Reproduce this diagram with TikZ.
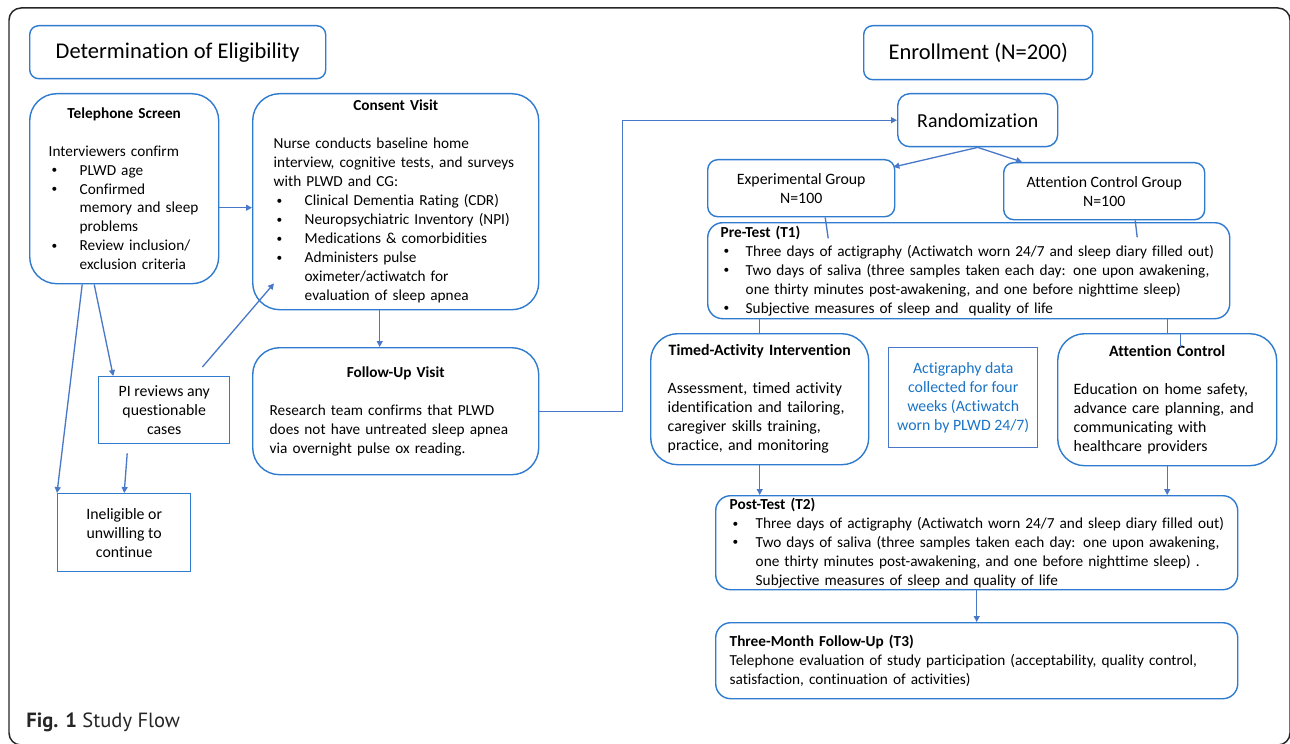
\documentclass[tikz,border=0pt]{standalone}
\usepackage{fontspec}
\setmainfont{Carlito}[Ligatures=NoCommon]
\newfontfamily\capfont{PT Sans}
\usetikzlibrary{positioning,arrows.meta,calc}
\definecolor{flowblue}{HTML}{2E7BCF}
\definecolor{linkblue}{HTML}{4A78C8}
\definecolor{noteblue}{HTML}{1A74C6}
\definecolor{framegray}{HTML}{262626}
\setlength{\parindent}{0pt}
\setlength{\parskip}{0pt}
\newdimen\pxu \pxu=0.02cm
\newcommand{\bodyfont}{\fontsize{8.7}{10.8}\selectfont}
\newcommand{\tabfont}{\fontsize{9}{10.8}\selectfont}
\newcommand{\noshrink}{\rightskip=-60\pxu plus 1fil\relax\hyphenpenalty=10000\relax}
\newcommand{\bulletmark}{\raisebox{0.15ex}{\fontsize{6.5}{6}\selectfont\textbullet}}
\newcommand{\bitem}[2][31]{\par\noshrink\noindent\hangindent=#1\pxu\hangafter=1\makebox[#1\pxu][l]{\hspace{3\pxu}\bulletmark}#2\par}
\newcommand{\boxhead}[1]{{\centering\bfseries #1\par}\vspace{\baselineskip}\noshrink}
\tikzset{
    panel/.style={draw=flowblue,line width=0.8pt,rounded corners=27\pxu,anchor=north west,inner sep=0pt,font=\bodyfont,align=left},
    tab/.style={panel,rounded corners=10\pxu,align=center,font=\tabfont},
    plainbox/.style={panel,sharp corners,align=center,font=\tabfont},
    head/.style={tab,rounded corners=9\pxu,font=\fontsize{12.8}{15}\selectfont},
    testbox/.style={panel,rounded corners=15\pxu},
    link/.style={draw=linkblue,line width=0.75pt,-{Triangle[length=3.4pt,width=3.4pt]}},
    wire/.style={draw=linkblue,line width=0.75pt},
    frame/.style={draw=framegray,line width=0.85pt,rounded corners=12\pxu},
}
\begin{document}
\begin{tikzpicture}[x=0.02cm,y=-0.02cm]
    \useasboundingbox (0,0) rectangle (1290,743);
    \draw[frame] (9,8) rectangle (1290,745);

    \node[head,minimum width=296\pxu,minimum height=53\pxu] (elig) at (29,25) {Determination of Eligibility};
    \node[head,minimum width=229\pxu,minimum height=54\pxu] (enrol) at (863,25) {Enrollment (N=200)};

    \node[panel,minimum width=189\pxu,minimum height=190\pxu,text width=151\pxu] (tel) at (29,93) {%
        \boxhead{Telephone Screen}
        Interviewers confirm
        \bitem{PLWD age}
        \bitem{Confirmed\newline memory and sleep\newline problems}
        \bitem{Review inclusion/\newline exclusion criteria}};
    \node[panel,minimum width=286\pxu,minimum height=216\pxu,text width=244\pxu] (consent) at (252,93) {%
        \boxhead{Consent Visit}
        Nurse conducts baseline home\newline interview, cognitive tests, and surveys\newline with PLWD and CG:
        \bitem{Clinical Dementia Rating (CDR)}
        \bitem{Neuropsychiatric Inventory (NPI)}
        \bitem{Medications \& comorbidities}
        \bitem{Administers pulse\newline oximeter/actiwatch for\newline evaluation of sleep apnea}};
    \node[plainbox,minimum width=131\pxu,minimum height=67\pxu] (pi) at (98,376) {PI reviews any\\questionable\\cases};
    \node[plainbox,minimum width=133\pxu,minimum height=78\pxu] (inel) at (57,493) {Ineligible or\\unwilling to\\continue};
    \node[panel,minimum width=286\pxu,minimum height=127\pxu,text width=252\pxu] (follow) at (252,347) {%
        \boxhead{Follow-Up Visit}
        Research team confirms that PLWD\newline does not have untreated sleep apnea\newline via overnight pulse ox reading.};

    \node[tab,rounded corners=12\pxu,minimum width=160\pxu,minimum height=53\pxu,font=\fontsize{11.3}{13}\selectfont] (rand) at (897,93) {Randomization};
    \node[tab,minimum width=187\pxu,minimum height=57\pxu] (exp) at (707,159) {Experimental Group\\N=100};
    \node[tab,minimum width=201\pxu,minimum height=57\pxu] (attgrp) at (1003,162) {Attention Control Group\\N=100};
    \node[testbox,minimum width=522\pxu,minimum height=96\pxu,text width=496\pxu] (pre) at (707,222) {%
        \textbf{Pre-Test (T1)}
        \bitem[25]{Three days of actigraphy (Actiwatch worn 24/7 and sleep diary filled out)}
        \bitem[25]{Two days of saliva (three samples taken each day: one upon awakening,\newline one thirty minutes post-awakening, and one before nighttime sleep)}
        \bitem[25]{Subjective measures of sleep and\ \ quality of life}};
    \node[panel,font=\tabfont,minimum width=218\pxu,minimum height=131\pxu,text width=184\pxu] (timed) at (650,333) {%
        \boxhead{Timed-Activity Intervention}
        Assessment, timed activity\newline identification and tailoring,\newline caregiver skills training,\newline practice, and monitoring};
    \node[plainbox,draw=linkblue,text=noteblue,minimum width=149\pxu,minimum height=100\pxu] (acti) at (888,347) {Actigraphy data\\collected for four\\weeks (Actiwatch\\worn by PLWD 24/7)};
    \node[panel,font=\tabfont,minimum width=219\pxu,minimum height=132\pxu,text width=187\pxu] (attctl) at (1057,333) {%
        \boxhead{Attention Control}
        Education on home safety,\newline advance care planning, and\newline communicating with\newline healthcare providers};
    \node[testbox,minimum width=522\pxu,minimum height=94\pxu,text width=494\pxu] (post) at (715,495) {%
        \textbf{Post-Test (T2)}
        \bitem[26]{Three days of actigraphy (Actiwatch worn 24/7 and sleep diary filled out)}
        \bitem[26]{Two days of saliva (three samples taken each day: one upon awakening,\newline one thirty minutes post-awakening, and one before nighttime sleep) .\newline Subjective measures of sleep and quality of life}};
    \node[testbox,minimum width=522\pxu,minimum height=76\pxu,text width=494\pxu] (three) at (715,622) {%
        \noshrink\textbf{Three-Month Follow-Up (T3)}\par
        Telephone evaluation of study participation (acceptability, quality control,\newline satisfaction, continuation of activities)};

    \node[anchor=west,inner sep=0pt,text=framegray,font=\capfont\fontsize{11.7}{14}\selectfont] (cap) at (26,722) {\textbf{Fig. 1} Study Flow};

    \coordinate (telout) at ($(tel.east)+(0,19)$);
    \coordinate (conin) at ($(consent.south)+(-16,0)$);
    \draw[link] (telout) -- (telout -| consent.west);
    \draw[link] ($(tel.south)+(-30,0)$) -- ($(pi.north)+(-51,0)$);
    \draw[link] ($(tel.south)+(-42,0)$) -- (inel.north west);
    \draw[link] ($(pi.north east)+(-28,-9)$) -- ($(consent.south west)+(22,-27)$);
    \draw[link] ($(pi.south)+(-37,9)$) -- (inel.north);
    \draw[link] (conin) -- (conin |- follow.north);
    \draw[link] (follow.east) -- ++(83,0) |- (rand.west);
    \draw[link] (rand.south) -- ($(exp.north east)+(-2,8)$);
    \draw[link] (rand.south) -- ($(attgrp.north west)+(19,0)$);
    \draw[wire] ($(exp.south)+(24,0)$) -- ++(3,21);
    \draw[wire] ($(attgrp.south)+(31,0)$) -- ++(2,17);
    \draw[wire] (timed.north |- pre.south) -- (timed.north);
    \draw[wire] (attctl.north |- pre.south) -- (attctl.north);
    \draw[wire] ($(attctl.north)+(13,0)$) -- ++(0,14);
    \draw[link] (timed.south) -- (timed.south |- post.north);
    \draw[link] (attctl.south) -- (attctl.south |- post.north);
    \draw[link] (post.south) -- (three.north);
\end{tikzpicture}
\end{document}
